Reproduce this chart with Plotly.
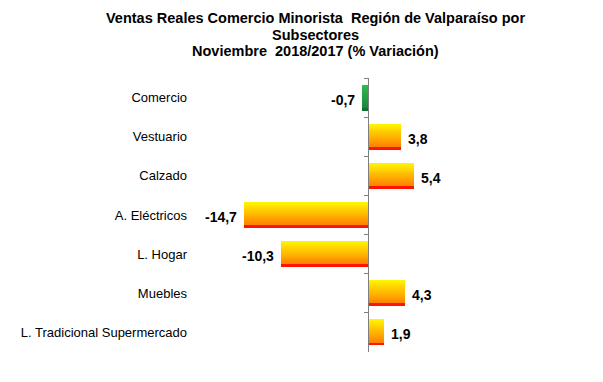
import plotly.graph_objects as go

categories = ["Comercio", "Vestuario", "Calzado", "A. Eléctricos", "L. Hogar",
              "Muebles", "L. Tradicional Supermercado"]
values = [-0.7, 3.8, 5.4, -14.7, -10.3, 4.3, 1.9]
value_labels = ["-0,7", "3,8", "5,4", "-14,7", "-10,3", "4,3", "1,9"]
title_lines = ["Ventas Reales Comercio Minorista \u00a0Región de Valparaíso por",
               "Subsectores",
               "Noviembre \u00a02018/2017 (% Variación)"]

FONT = "Liberation Sans, Arial, sans-serif"
BAR_W = 0.64
N = 26
L_M, R_M, T_M, B_M = 195, 150, 78, 30
W_FIG, H_FIG = 603, 382


def lerp(c1, c2, t):
    return "rgb(%d,%d,%d)" % tuple(round(a + (b - a) * t) for a, b in zip(c1, c2))


def slice_color(is_total, k):
    if is_total:
        if k >= N - 2:
            return "rgb(18,110,45)"
        return lerp((45, 190, 80), (25, 135, 58), k / (N - 3))
    if k >= N - 2:
        return "rgb(255,20,0)"
    return lerp((255, 244, 0), (255, 130, 0), k / (N - 3))


fig = go.Figure()
step = BAR_W / N
for k in range(N):
    w = step * (1.4 if k < N - 1 else 1.0)
    fig.add_trace(go.Bar(
        y=categories, x=values, orientation="h",
        width=w, offset=-BAR_W / 2 + k * step,
        marker=dict(color=[slice_color(i == 0, k) for i in range(len(values))],
                    line=dict(width=0)),
        showlegend=False, hoverinfo="skip",
    ))

# invisible trace for the axis drawn at zero
fig.add_trace(go.Scatter(y=categories, x=[0] * len(categories), yaxis="y2",
                         mode="markers", marker=dict(opacity=0),
                         showlegend=False, hoverinfo="skip"))

for cat, v, lab in zip(categories, values, value_labels):
    fig.add_annotation(x=v, y=cat, text="<b>%s</b>" % lab, showarrow=False,
                       xanchor="left" if v > 0 else "right",
                       xshift=5 if v > 0 else -5, yshift=-2,
                       font=dict(family=FONT, size=14, color="black"))

plot_w = W_FIG - L_M - R_M
for line, ys in zip(title_lines, [59.8, 43.2, 26.8]):
    fig.add_annotation(text="<b>%s</b>" % line, showarrow=False,
                       xref="paper", yref="paper", x=(315.5 - L_M) / plot_w, y=1,
                       xanchor="center", yanchor="middle", yshift=ys,
                       font=dict(family=FONT, size=14.5, color="black"))

xmin, xmax = -20.5, 10.0
fig.update_layout(
    width=W_FIG, height=H_FIG,
    margin=dict(l=L_M, r=R_M, t=T_M, b=B_M),
    paper_bgcolor="white", plot_bgcolor="white",
    barmode="overlay", bargap=0,
    xaxis=dict(range=[xmin, xmax], visible=False, showgrid=False, zeroline=False),
    yaxis=dict(type="category", categoryarray=categories, range=[6.5, -0.5],
               showgrid=False, zeroline=False, showline=False, ticks="",
               ticklabelstandoff=7,
               tickfont=dict(family=FONT, size=13, color="black")),
    yaxis2=dict(type="category", categoryarray=categories, range=[6.5, -0.5],
                overlaying="y", anchor="free", side="left",
                position=(0 - xmin) / (xmax - xmin),
                showticklabels=False, showgrid=False, zeroline=False,
                showline=True, linecolor="#7f7f7f", linewidth=1,
                ticks="outside", tickson="boundaries", ticklen=4,
                tickcolor="#7f7f7f"),
)

fig.write_html("out.html", config={"displayModeBar": False},
               post_script="document.body.style.margin='0px';")
